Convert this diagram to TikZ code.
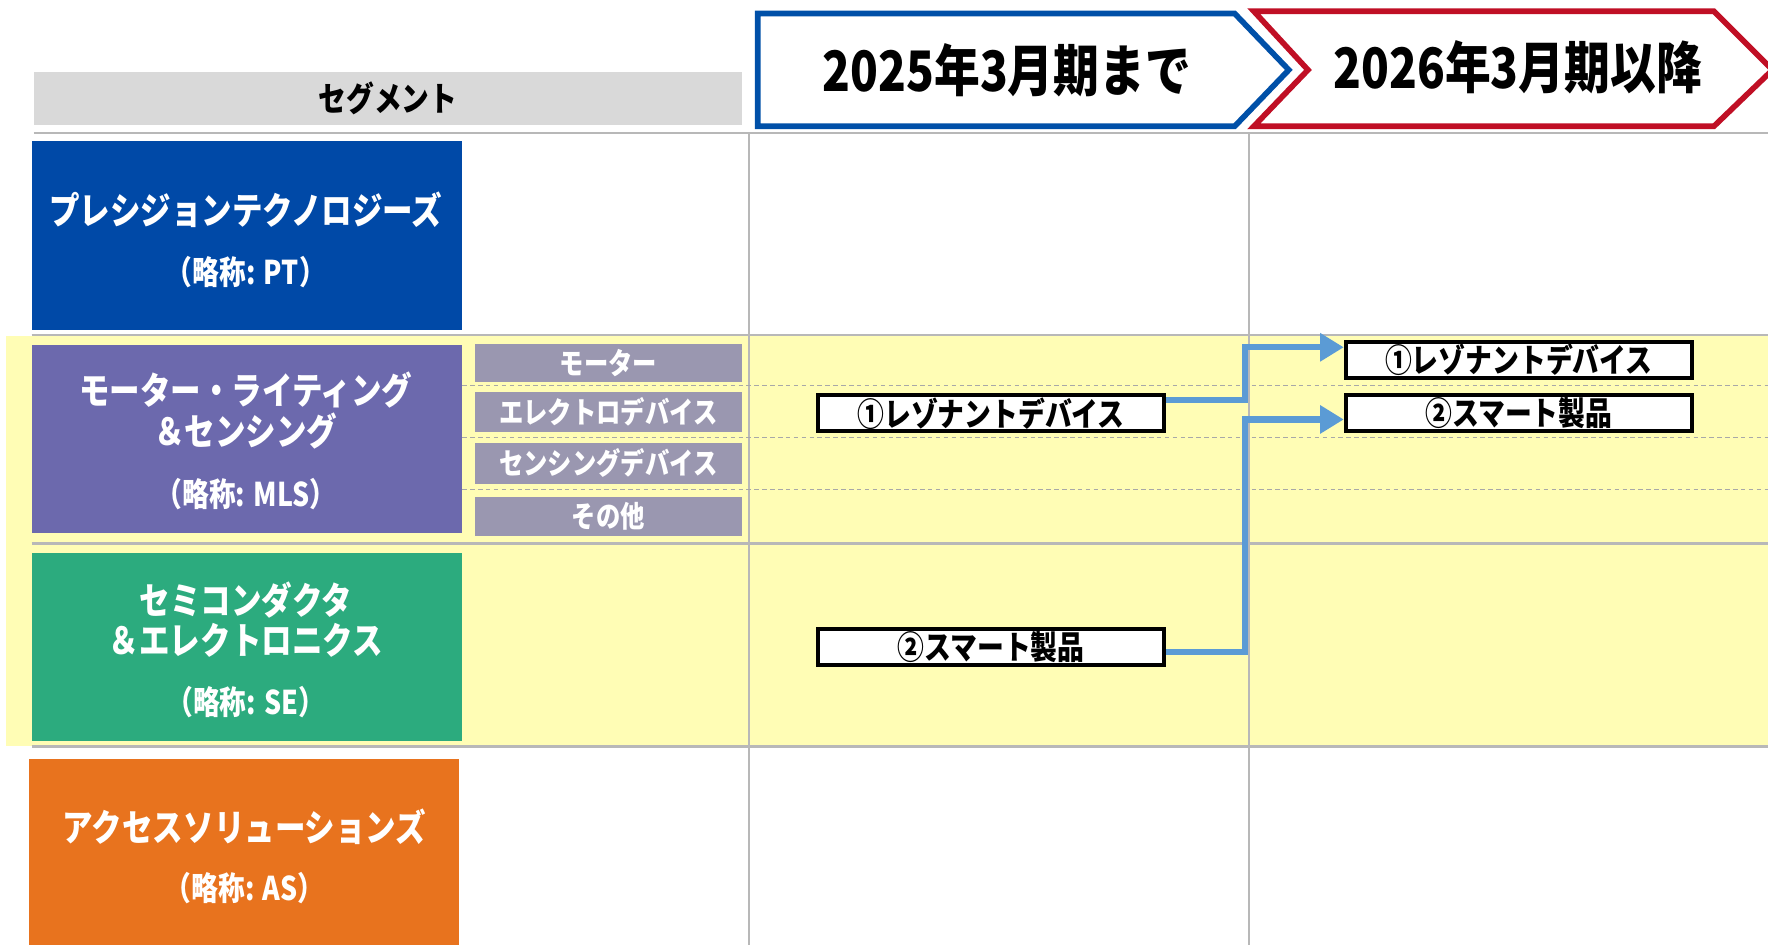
\documentclass[tikz,border=0pt]{standalone}
\usepackage{fontspec}
\setmainfont{Noto Sans CJK JP}[FakeStretch=0.82]
\usetikzlibrary{arrows.meta}
\definecolor{ptblue}{HTML}{0049A7}
\definecolor{mlspurple}{HTML}{6C69AD}
\definecolor{subgray}{HTML}{9A97B0}
\definecolor{segreen}{HTML}{2CAB7E}
\definecolor{asorange}{HTML}{E8731E}
\definecolor{headgray}{HTML}{D9D9D9}
\definecolor{bandyellow}{HTML}{FFFDB5}
\definecolor{flowblue}{HTML}{5B9BD5}
\definecolor{hdblue}{HTML}{0050A8}
\definecolor{hdred}{HTML}{C00F25}
\definecolor{gridgray}{HTML}{B8B8B8}
\definecolor{dashgray}{HTML}{A8A8A8}
\begin{document}
\begin{tikzpicture}[x=1pt,y=-1pt,
  segbox/.style={draw=none,minimum width=382pt,inner sep=0pt},
  segtxt/.style={text=white,font=\bfseries\fontsize{33}{35}\selectfont,inner sep=0pt},
  abbrtxt/.style={text=white,font=\bfseries\fontsize{29}{31}\selectfont,inner sep=0pt},
  subbox/.style={fill=subgray,minimum width=237pt,inner sep=0pt,text=white,font=\bfseries\fontsize{26.3}{28}\selectfont},
  prodbox/.style={draw=black,line width=3.5pt,fill=white,minimum width=307pt,minimum height=32pt,inner sep=0pt,font=\bfseries\fontsize{29}{31}\selectfont},
  gridline/.style={draw=gridgray,line width=2pt},
  dashline/.style={draw=dashgray,line width=1.2pt,dash pattern=on 4pt off 3pt},
  flow/.style={draw=flowblue,line width=5.5pt,-{Triangle[length=21pt,width=24pt]}},
  hdtxt/.style={font=\bfseries\fontsize{49.5}{52}\selectfont,inner sep=0pt}
]
\useasboundingbox (0,0) rectangle (1568,838);
\fill[white] (0,0) rectangle (1568,838);
% yellow band
\fill[bandyellow] (5,298) rectangle (1568,662);
% grid
\draw[gridline] (30,118) -- (1568,118);
\draw[gridline] (28,297) -- (1568,297);
\draw[gridline] (28,482) -- (1568,482);
\draw[gridline] (28,662) -- (1568,662);
\draw[gridline] (664,118) -- (664,838);
\draw[gridline] (1108,118) -- (1108,838);
\draw[dashline] (410,342) -- (1568,342);
\draw[dashline] (410,388) -- (1568,388);
\draw[dashline] (410,434) -- (1568,434);
% header
\node[fill=headgray,minimum width=628pt,minimum height=47pt,inner sep=0pt,font=\bfseries\fontsize{30}{32}\selectfont] (seg) at (344,87.5) {セグメント};
\draw[hdblue,line width=5pt,fill=white,line join=miter] (672,12) -- (1095,12) -- (1143,62) -- (1095,112) -- (672,112) -- cycle;
\draw[hdred,line width=5pt,fill=white,line join=miter] (1112,10) -- (1520,10) -- (1572,62) -- (1520,112) -- (1112,112) -- (1160,62) -- cycle;
\node[hdtxt] (h1) at (893,62) {2025年3月期まで};
\node[hdtxt] (h2) at (1346,60) {2026年3月期以降};
% segments
\node[segbox,fill=ptblue,minimum height=168pt] (pt) at (219,209) {};
\node[segtxt] (ptt) at (218,186) {プレシジョンテクノロジーズ};
\node[abbrtxt] (pta) at (218,241) {（略称: PT）};
\node[segbox,fill=mlspurple,minimum height=167pt] (mls) at (219,389.5) {};
\node[segtxt] (mlst1) at (218,346) {モーター・ライティング};
\node[segtxt] (mlst2) at (218,382) {＆センシング};
\node[abbrtxt] (mlsa) at (218,438) {（略称: MLS）};
\node[segbox,fill=segreen,minimum height=167pt] (se) at (219,573.5) {};
\node[segtxt] (set1) at (218,532) {セミコンダクタ};
\node[segtxt] (set2) at (218,568) {＆エレクトロニクス};
\node[abbrtxt] (sea) at (218,623) {（略称: SE）};
\node[segbox,fill=asorange,minimum width=381pt,minimum height=174pt] (as) at (216.5,760) {};
\node[segtxt] (ast) at (217,733) {アクセスソリューションズ};
\node[abbrtxt] (asa) at (217,788) {（略称: AS）};
% sub-segments
\node[subbox,minimum height=34pt] (s1) at (539.5,322) {モーター};
\node[subbox,minimum height=35pt] (s2) at (539.5,365.5) {エレクトロデバイス};
\node[subbox,minimum height=36pt] (s3) at (539.5,411) {センシングデバイス};
\node[subbox,minimum height=34pt] (s4) at (539.5,458) {その他};
% products
\node[prodbox] (l1) at (879,366.5) {①レゾナントデバイス};
\node[prodbox] (l2) at (879,573.5) {②スマート製品};
\node[prodbox] (r1) at (1347,319) {①レゾナントデバイス};
\node[prodbox] (r2) at (1347,366.5) {②スマート製品};
% flows
\draw[flow] ([yshift=11.5pt]l1.east) -- ++(70,0) |- ([yshift=11pt]r1.west);
\draw[flow] ([yshift=-4.5pt]l2.east) -- ++(70,0) |- ([yshift=-5.5pt]r2.west);
\end{tikzpicture}
\end{document}
